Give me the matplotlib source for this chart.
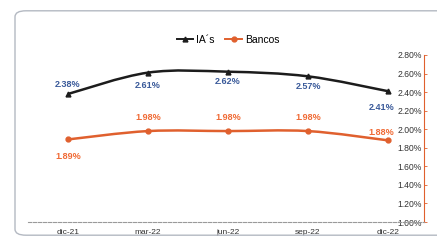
import matplotlib.pyplot as plt
import numpy as np
from matplotlib.path import Path
from matplotlib.patches import PathPatch, FancyBboxPatch
from matplotlib.lines import Line2D
from matplotlib.ticker import FuncFormatter

plt.rcParams['font.family'] = ['Liberation Sans Narrow', 'Liberation Sans', 'DejaVu Sans']

periods = ['dic-21', 'mar-22', 'jun-22', 'sep-22', 'dic-22']
ias = [2.38, 2.61, 2.62, 2.57, 2.41]
bancos = [1.89, 1.98, 1.98, 1.98, 1.88]
y_ticks = [1.00, 1.20, 1.40, 1.60, 1.80, 2.00, 2.20, 2.40, 2.60, 2.80]

IA_COLOR = '#1c1c1c'
IA_LABEL = '#3a5a9a'
BA_COLOR = '#e0602e'
BA_LABEL = '#f06a35'


def smooth_path(xs, ys, t=0.17):
    # Excel-like smoothed line as cubic bezier segments
    pts = list(zip(xs, ys))
    verts = [pts[0]]
    codes = [Path.MOVETO]
    n = len(pts)
    for i in range(n - 1):
        p0 = pts[i - 1] if i > 0 else pts[i]
        p1, p2 = pts[i], pts[i + 1]
        p3 = pts[i + 2] if i + 2 < n else pts[i + 1]
        c1 = (p1[0] + (p2[0] - p0[0]) * t, p1[1] + (p2[1] - p0[1]) * t)
        c2 = (p2[0] - (p3[0] - p1[0]) * t, p2[1] - (p3[1] - p1[1]) * t)
        verts += [c1, c2, p2]
        codes += [Path.CURVE4] * 3
    return Path(verts, codes)


fig = plt.figure(figsize=(4.37, 2.40), dpi=100)
fig.patch.set_facecolor('white')

# rounded chart frame
frame = FancyBboxPatch((15 / 437, 0.02), 1.2, 0.935, boxstyle='round,pad=0,rounding_size=0.025',
                       transform=fig.transFigure, facecolor='none', edgecolor='#b4b9c2', lw=1.0)
fig.patches.append(frame)

ax = fig.add_axes([28 / 437, 1 - 222 / 240, (424 - 28) / 437, (222 - 55) / 240])
x = np.arange(len(periods))

ax.add_patch(PathPatch(smooth_path(x, ias), facecolor='none', edgecolor=IA_COLOR, lw=1.8, zorder=3))
ax.plot(x, ias, ls='none', marker='^', ms=3.5, color=IA_COLOR, zorder=4)
ax.add_patch(PathPatch(smooth_path(x, bancos), facecolor='none', edgecolor=BA_COLOR, lw=1.8, zorder=3))
ax.plot(x, bancos, ls='none', marker='o', ms=3.5, color=BA_COLOR, zorder=4)

ax.set_xlim(-0.5, 4.45)
ax.set_ylim(1.0, 2.8)
ax.set_xticks(x)
ax.set_xticklabels(periods)
ax.set_yticks(y_ticks)
ax.yaxis.set_major_formatter(FuncFormatter(lambda v, p: f'{v:.2f}%'))
ax.yaxis.tick_right()
ax.tick_params(axis='y', direction='out', length=2.5, width=0.6, color=BA_COLOR,
               labelsize=6.2, labelcolor='#333333', pad=-4)
for lab in ax.get_yticklabels():
    lab.set_horizontalalignment('right')
ax.tick_params(axis='x', length=0, labelsize=6, labelcolor='#333333', pad=5)

for s in ['top', 'left']:
    ax.spines[s].set_visible(False)
ax.spines['right'].set_color(BA_COLOR)
ax.spines['right'].set_linewidth(0.8)
ax.spines['bottom'].set_color('#9a9a9a')
ax.spines['bottom'].set_linestyle((0, (3, 1.5)))
ax.spines['bottom'].set_linewidth(0.8)

# data labels
ia_off = [(0, 7), (0, -9), (0, -7), (0, -7), (0, -12)]
ia_ha = ['center', 'center', 'center', 'center', 'right']
for xi, v, (dx, dy), ha in zip(x, ias, ia_off, ia_ha):
    if ha == 'right':
        dx = 4.5
    ax.annotate(f'{v:.2f}%', (xi, v), xytext=(dx, dy), textcoords='offset points',
                ha=ha, va='center', fontsize=6.5, fontweight='bold', color=IA_LABEL)
ba_off = [(0, -12), (0, 10), (0, 10), (0, 10), (4.5, 6)]
ba_ha = ['center', 'center', 'center', 'center', 'right']
for xi, v, (dx, dy), ha in zip(x, bancos, ba_off, ba_ha):
    ax.annotate(f'{v:.2f}%', (xi, v), xytext=(dx, dy), textcoords='offset points',
                ha=ha, va='center', fontsize=6.5, fontweight='bold', color=BA_LABEL)

handles = [Line2D([], [], color=IA_COLOR, lw=1.4, marker='^', ms=3.5),
           Line2D([], [], color=BA_COLOR, lw=1.4, marker='o', ms=3.5)]
fig.legend(handles, ["IA´s", 'Bancos'], loc='center', bbox_to_anchor=(228 / 437, 1 - 40 / 240),
           ncol=2, frameon=False, fontsize=7.5, handlelength=1.6, handletextpad=0.3,
           columnspacing=1.0)

fig.savefig('out.png', dpi=100)
